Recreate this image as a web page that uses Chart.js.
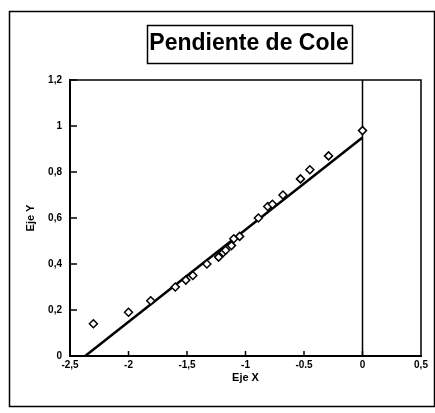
<!DOCTYPE html>
<html>
<head>
<meta charset="utf-8">
<script src="https://cdn.jsdelivr.net/npm/chart.js@4/dist/chart.umd.min.js"></script>
<style>
  html, body { margin: 0; padding: 0; background: #fff; }
  #wrap { width: 435px; height: 413px; }
</style>
</head>
<body>
<div id="wrap"><canvas id="cole"></canvas></div>
<script>
const titleText = 'Pendiente de Cole';
const xTickLabels = ['-2,5', '-2', '-1,5', '-1', '-0.5', '0', '0,5'];
const yTickLabels = ['0', '0,2', '0,4', '0,6', '0,8', '1', '1,2'];

// measured points (open diamonds)
const xValues = [-2.3, -2.0, -1.81, -1.6, -1.51, -1.45, -1.33, -1.23, -1.19, -1.17, -1.12, -1.1, -1.05, -0.89, -0.81, -0.77, -0.68, -0.53, -0.45, -0.29, 0.0];
const yValues = [0.14, 0.19, 0.24, 0.30, 0.33, 0.35, 0.40, 0.43, 0.45, 0.46, 0.48, 0.51, 0.52, 0.60, 0.65, 0.66, 0.70, 0.77, 0.81, 0.87, 0.98];

// fitted line
const fitX = [-2.37, 0.0];
const fitY = [0.0, 0.95];

// vertical line at x = 0
const zeroX = [0, 0];
const zeroY = [0, 1.2];

const toPoints = (xs, ys) => xs.map((x, i) => ({ x, y: ys[i] }));

const font = 'Liberation Sans, Arial, sans-serif';

// frame, title box, inside ticks
const decorations = {
  id: 'decorations',
  beforeDraw(chart) {
    const c = chart.ctx;
    c.save();
    c.strokeStyle = '#000';
    c.lineWidth = 1.5;
    c.strokeRect(9.5, 11.5, 425, 395);
    c.restore();
  },
  afterDraw(chart) {
    const c = chart.ctx;
    const { left, right, top, bottom } = chart.chartArea;
    const xs = chart.scales.x;
    const ys = chart.scales.y;
    c.save();
    c.strokeStyle = '#000';

    // top and right border of plot
    c.lineWidth = 1.5;
    c.beginPath();
    c.moveTo(left, top);
    c.lineTo(right, top);
    c.lineTo(right, bottom);
    c.stroke();

    // ticks pointing inward
    c.lineWidth = 1.5;
    c.beginPath();
    xs.ticks.forEach(t => {
      const px = xs.getPixelForValue(t.value);
      if (px <= left + 1 || px >= right - 1) return;
      c.moveTo(px, bottom);
      c.lineTo(px, bottom - 5);
    });
    ys.ticks.forEach(t => {
      const py = ys.getPixelForValue(t.value);
      if (py >= bottom - 1) return;
      c.moveTo(left, py);
      c.lineTo(left + 7, py);
    });
    c.stroke();

    // title in box
    c.font = 'bold 23px ' + font;
    c.fillStyle = '#000';
    c.textAlign = 'center';
    c.textBaseline = 'middle';
    c.fillText(titleText, 249, 44);
    c.lineWidth = 1.5;
    c.strokeRect(147.5, 25.5, 205, 38);
    c.restore();
  }
};

new Chart(document.getElementById('cole'), {
  type: 'scatter',
  data: {
    datasets: [
      {
        label: 'Datos',
        data: toPoints(xValues, yValues),
        pointStyle: 'rectRot',
        pointRadius: 4,
        pointBorderWidth: 1.5,
        borderColor: '#000',
        backgroundColor: '#fff',
        order: 0
      },
      {
        label: 'Ajuste',
        type: 'line',
        data: toPoints(fitX, fitY),
        borderColor: '#000',
        borderWidth: 2.5,
        pointRadius: 0,
        fill: false,
        order: 1
      },
      {
        label: 'x = 0',
        type: 'line',
        data: toPoints(zeroX, zeroY),
        borderColor: '#000',
        borderWidth: 1.5,
        pointRadius: 0,
        fill: false,
        order: 2
      }
    ]
  },
  options: {
    responsive: true,
    maintainAspectRatio: false,
    animation: false,
    layout: { padding: { left: 10, right: 14, top: 80, bottom: 10 } },
    plugins: {
      legend: { display: false },
      tooltip: { enabled: false }
    },
    scales: {
      x: {
        type: 'linear',
        min: -2.5,
        max: 0.5,
        afterFit: s => { s.height = 47; },
        ticks: {
          stepSize: 0.5,
          padding: 3,
          color: '#000',
          font: { family: font, size: 10, weight: 'bold' },
          maxRotation: 0,
          callback: (v, i) => xTickLabels[i]
        },
        grid: { display: false, drawTicks: false },
        border: { display: true, color: '#000', width: 2 },
        title: {
          display: true,
          text: 'Eje X',
          color: '#000',
          font: { family: font, size: 11, weight: 'bold' },
          padding: { top: 0, bottom: 18 }
        }
      },
      y: {
        min: 0,
        max: 1.2,
        afterFit: s => { s.width = 60; },
        ticks: {
          stepSize: 0.2,
          padding: 8,
          color: '#000',
          font: { family: font, size: 10, weight: 'bold' },
          callback: (v, i) => yTickLabels[i]
        },
        grid: { display: false, drawTicks: false },
        border: { display: true, color: '#000', width: 2 },
        title: {
          display: true,
          text: 'Eje Y',
          color: '#000',
          font: { family: font, size: 11, weight: 'bold' },
          padding: { top: 14, bottom: 0 }
        }
      }
    }
  },
  plugins: [decorations]
});
</script>
</body>
</html>
